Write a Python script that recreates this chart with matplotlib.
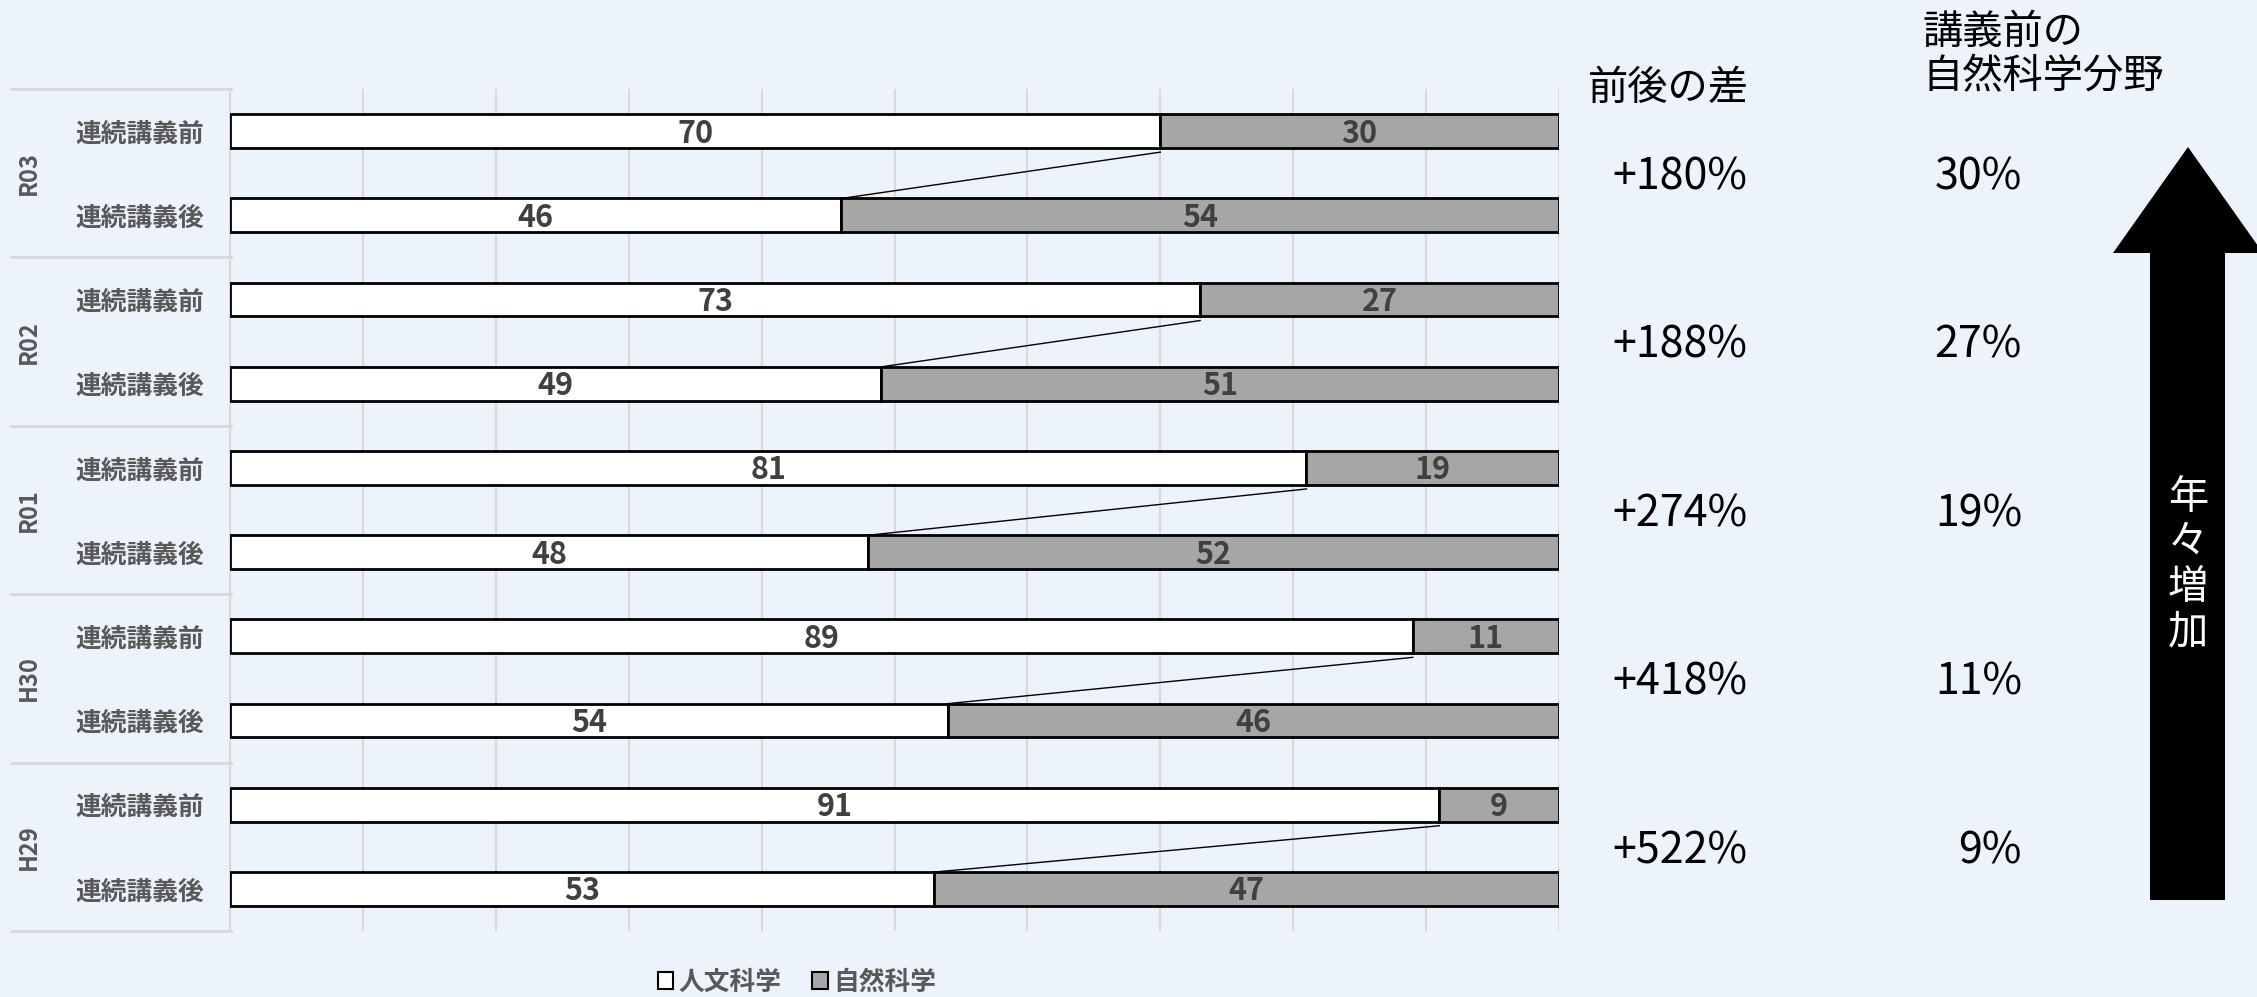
import matplotlib
matplotlib.use("Agg")
import matplotlib.pyplot as plt
import matplotlib.transforms as mtransforms
from matplotlib.patches import Patch, Polygon
from matplotlib.lines import Line2D

plt.rcParams['font.family'] = ['Noto Sans CJK JP', 'DejaVu Sans']

# ---- data ----
years = ['R03', 'R02', 'R01', 'H30', 'H29']
row_labels = ['連続講義前', '連続講義後']
humanities_before = [70, 73, 81, 89, 91]
natural_before = [30, 27, 19, 11, 9]
humanities_after = [46, 49, 48, 54, 53]
natural_after = [54, 51, 52, 46, 47]
diff_labels = ['+180%', '+188%', '+274%', '+418%', '+522%']
natural_before_pct = ['30%', '27%', '19%', '11%', '9%']
series_names = ['人文科学', '自然科学']
header_diff = '前後の差'
header_pct = '講義前の\n自然科学分野'
arrow_text = '年々増加'

BG = '#ECF3FA'
GRAY = '#A6A6A6'
LABEL = '#404040'
TICK = '#595959'
GRID = '#D9D9D9'

W, H = 2257, 997
fig = plt.figure(figsize=(W / 100, H / 100), dpi=100, facecolor=BG)
ax = fig.add_axes([230 / W, 1 - 931 / H, (1559 - 230) / W, (931 - 89) / H])
ax.set_facecolor(BG)

hum = []
nat = []
labels = []
for i in range(len(years)):
    hum += [humanities_before[i], humanities_after[i]]
    nat += [natural_before[i], natural_after[i]]
    labels += row_labels
ypos = list(range(len(hum)))
bh = 0.4

ax.barh(ypos, hum, height=bh, color='white', edgecolor='black', linewidth=2, zorder=3)
ax.barh(ypos, nat, left=hum, height=bh, color=GRAY, edgecolor='black', linewidth=2, zorder=3)

for y, h, n in zip(ypos, hum, nat):
    ax.text(h / 2, y + 0.03, str(h), ha='center', va='center', fontsize=22,
            fontweight='bold', color=LABEL, zorder=4)
    ax.text(h + n / 2, y + 0.03, str(n), ha='center', va='center', fontsize=22,
            fontweight='bold', color=LABEL, zorder=4)

# series lines between before/after
for i in range(len(years)):
    yb = 2 * i
    ya = 2 * i + 1
    ax.plot([humanities_before[i], humanities_after[i]], [yb + bh / 2 + 0.05, ya - bh / 2],
            color='black', lw=1, zorder=2)

ax.set_xlim(0, 100)
ax.set_ylim(len(hum) - 0.5, -0.5)
ax.set_xticks(range(0, 101, 10))
ax.set_xticklabels([])
ax.tick_params(axis='x', length=0)
ax.grid(axis='x', color=GRID, lw=1.5, zorder=0)
ax.set_yticks(ypos)
ax.set_yticklabels(labels, fontsize=18.5, color=TICK, fontweight='bold')
ax.tick_params(axis='y', length=0, pad=19)
for s in ['top', 'right', 'bottom']:
    ax.spines[s].set_visible(False)
ax.spines['left'].set_color(GRID)
ax.spines['left'].set_linewidth(1.5)

# group labels and separators
btrans = mtransforms.blended_transform_factory(fig.transFigure, ax.transData)
for i, yr in enumerate(years):
    yc = 2 * i + 0.5
    ax.text(29 / W, yc, yr, transform=btrans, rotation=90, ha='center', va='center',
            fontsize=17, fontweight='bold', color=TICK)
for k in range(len(years) + 1):
    yb = 2 * k - 0.5
    fig.add_artist(Line2D([11 / W, 231 / W], [yb, yb], transform=btrans, color=GRID, lw=2))

# right-side annotations
fig.text(1588 / W, 1 - 88 / H, header_diff, fontsize=29, ha='left', va='center', color='black')
fig.text(1922 / W, 1 - 55 / H, header_pct, fontsize=29, ha='left', va='center', color='black',
         linespacing=1.1)
for i in range(len(years)):
    yc = 2 * i + 0.55
    ax.text(1612 / W, yc, diff_labels[i], transform=btrans, ha='left', va='center',
            fontsize=31, color='black')
    ax.text(2022 / W, yc, natural_before_pct[i], transform=btrans, ha='right', va='center',
            fontsize=31, color='black')

# big arrow
pts = [(2150, 900), (2150, 253), (2113, 253), (2188, 147), (2263, 253), (2225, 253), (2225, 900)]
fig.add_artist(Polygon([(x / W, 1 - y / H) for x, y in pts], closed=True,
                       transform=fig.transFigure, facecolor='black', edgecolor='none'))
fig.text(2188 / W, 1 - 565 / H, '\n'.join(arrow_text), ha='center', va='center',
         fontsize=29, color='white', linespacing=1.12)

# legend
handles = [Patch(facecolor='white', edgecolor='black', lw=1.5),
           Patch(facecolor=GRAY, edgecolor='black', lw=1.5)]
leg = fig.legend(handles, series_names, loc='center', bbox_to_anchor=(797 / W, 1 - 982 / H),
                 ncol=2, frameon=False, fontsize=18.5, handlelength=0.6, handleheight=0.6,
                 handletextpad=0.2, columnspacing=1.2)
for t in leg.get_texts():
    t.set_color(TICK)
    t.set_fontweight('bold')

fig.savefig('out.png', dpi=100, facecolor=BG)
